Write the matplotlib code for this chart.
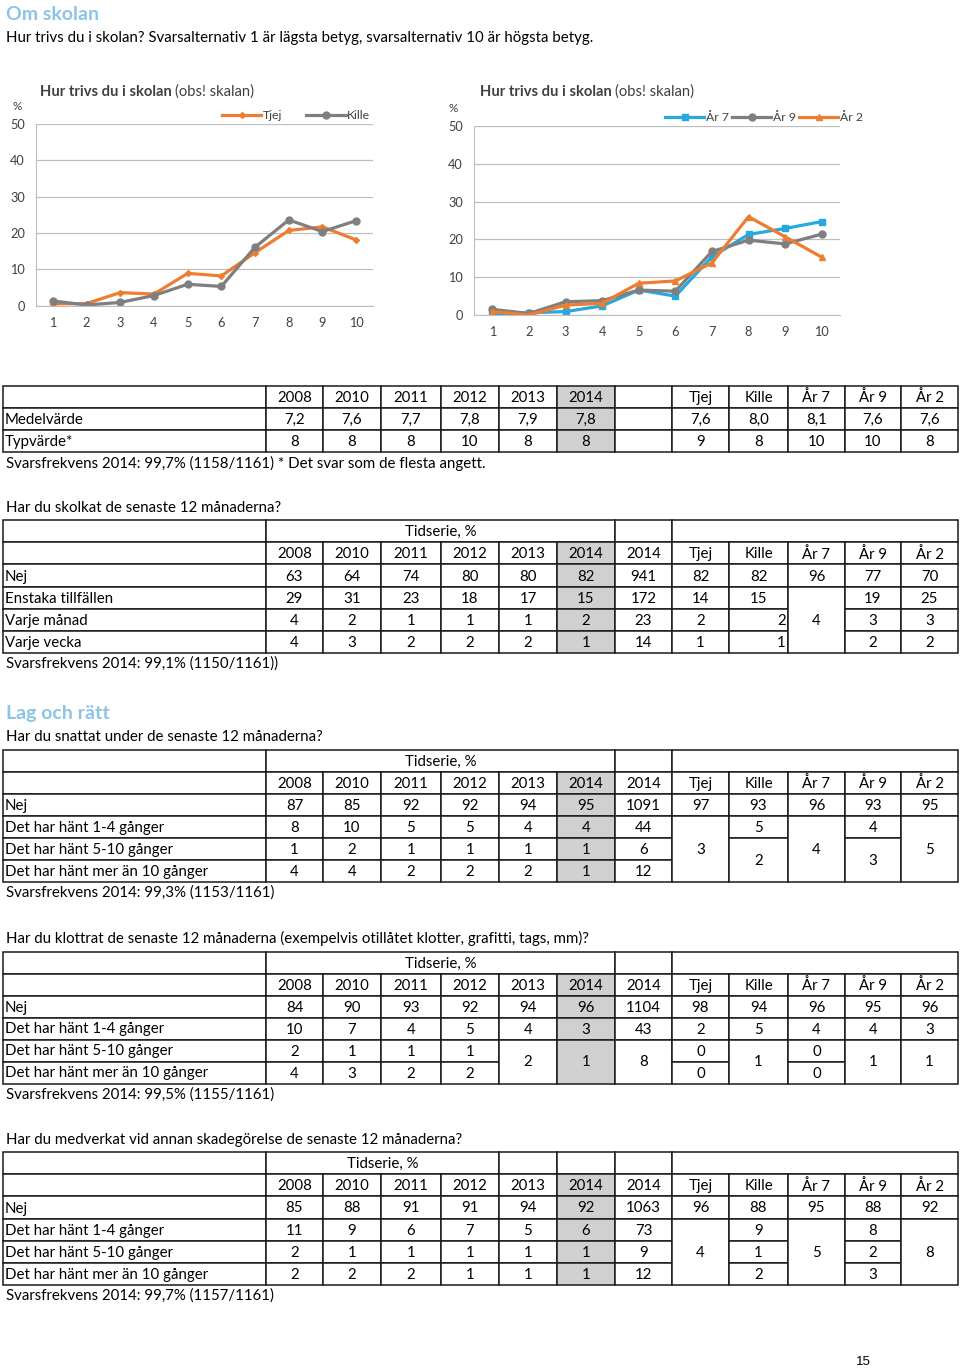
import matplotlib
matplotlib.use('Agg')
import matplotlib.pyplot as plt
from matplotlib.patches import Rectangle

plt.rcParams['font.family'] = ['Lato', 'DejaVu Sans']

# ---- chart data (percent per answer 1..10) ----
betyg = [1, 2, 3, 4, 5, 6, 7, 8, 9, 10]
trivs_tjej = [0.5, 0.6, 3.6, 3.2, 8.9, 8.2, 14.6, 20.7, 21.7, 18.1]
trivs_kille = [1.3, 0.2, 0.9, 2.8, 5.9, 5.3, 16.1, 23.6, 20.4, 23.4]
trivs_ar7 = [0.2, 0.6, 0.9, 2.4, 6.6, 5.0, 15.4, 21.3, 22.9, 24.7]
trivs_ar9 = [1.5, 0.4, 3.5, 3.8, 6.6, 6.3, 16.8, 19.8, 18.8, 21.4]
trivs_ar2 = [0.9, 0.0, 2.6, 3.1, 8.4, 9.0, 13.8, 26.0, 20.7, 15.3]

# ---- table data ----
years = ['2008', '2010', '2011', '2012', '2013', '2014']
groups = ['Tjej', 'Kille', 'År 7', 'År 9', 'År 2']

medel_tid = [7.2, 7.6, 7.7, 7.8, 7.9, 7.8]
medel_grp = [7.6, 8.0, 8.1, 7.6, 7.6]
typ_tid = [8, 8, 8, 10, 8, 8]
typ_grp = [9, 8, 10, 10, 8]

skolk_labels = ['Nej', 'Enstaka tillfällen', 'Varje månad', 'Varje vecka']
skolk_tid = [[63, 64, 74, 80, 80, 82], [29, 31, 23, 18, 17, 15],
             [4, 2, 1, 1, 1, 2], [4, 3, 2, 2, 2, 1]]
skolk_antal = [941, 172, 23, 14]
skolk_grp = [[82, 82, 96, 77, 70], [14, 15, 4, 19, 25],
             [2, 2, None, 3, 3], [1, 1, None, 2, 2]]

hant_labels = ['Nej', 'Det har hänt 1-4 gånger', 'Det har hänt 5-10 gånger',
               'Det har hänt mer än 10 gånger']

snatt_tid = [[87, 85, 92, 92, 94, 95], [8, 10, 5, 5, 4, 4],
             [1, 2, 1, 1, 1, 1], [4, 4, 2, 2, 2, 1]]
snatt_antal = [1091, 44, 6, 12]
snatt_grp = [[97, 93, 96, 93, 95], [3, 5, 4, 4, 5],
             [None, 2, None, 3, None], [None, None, None, None, None]]

klott_tid = [[84, 90, 93, 92, 94, 96], [10, 7, 4, 5, 4, 3],
             [2, 1, 1, 1, 2, 1], [4, 3, 2, 2, None, None]]
klott_antal = [1104, 43, 8, None]
klott_grp = [[98, 94, 96, 95, 96], [2, 5, 4, 4, 3],
             [0, 1, 0, 1, 1], [0, None, 0, None, None]]

skad_tid = [[85, 88, 91, 91, 94, 92], [11, 9, 6, 7, 5, 6],
            [2, 1, 1, 1, 1, 1], [2, 2, 2, 1, 1, 1]]
skad_antal = [1063, 73, 9, 12]
skad_grp = [[96, 88, 95, 88, 92], [4, 9, 5, 8, 8],
            [None, 1, None, 2, None], [None, 2, None, 3, None]]

# ---- page ----
fig = plt.figure(figsize=(9.6, 13.7), dpi=100)
page = fig.add_axes([0, 0, 1, 1])
page.set_xlim(0, 960)
page.set_ylim(1370, 0)
page.axis('off')

BLUE = '#8CC4E6'
GRAY = '#D0D0D0'
FS = 10.8
edges = [3, 266, 323, 381, 441, 499, 557, 615, 672, 729, 788, 845, 901, 958]


def cell(x0, x1, y0, y1, text='', fill='white', ha='center'):
    page.add_patch(Rectangle((x0, y0), x1 - x0, y1 - y0, facecolor=fill,
                             edgecolor='#1a1a1a', lw=1.1, zorder=2))
    if text != '':
        x = (x0 + x1) / 2 if ha == 'center' else (x0 + 2 if ha == 'left' else x1 - 2)
        page.text(x, (y0 + y1) / 2 + 1, text, ha=ha, va='center', fontsize=FS,
                  color='black', zorder=3)


def fmt(v):
    return '' if v is None else str(v)


def data_rows(labels, cols, y0, h, right=()):
    # cols: list of per-column value lists; None below a value = merged cell
    n = len(labels)
    for r in range(n):
        cell(edges[0], edges[1], y0 + r * h, y0 + (r + 1) * h, labels[r], ha='left')
    for c, vals in enumerate(cols):
        ci = c + 1
        fill = GRAY if ci == 6 else 'white'
        r = 0
        while r < n:
            span = 1
            while r + span < n and vals[r + span] is None:
                span += 1
            cell(edges[ci], edges[ci + 1], y0 + r * h, y0 + (r + span) * h,
                 fmt(vals[r]), fill=fill,
                 ha='right' if (r, ci) in right else 'center')
            r += span


def survey_table(top, labels, tid, antal, grp, h=22.2, tid_end=7, right=()):
    # Tidserie row
    cell(edges[0], edges[1], top, top + h)
    cell(edges[1], edges[tid_end], top, top + h, 'Tidserie, %')
    for i in range(tid_end, 8):
        cell(edges[i], edges[i + 1], top, top + h)
    cell(edges[8], edges[13], top, top + h)
    # header row
    y = top + h
    cell(edges[0], edges[1], y, y + h)
    for i, t in enumerate(years + ['2014'] + groups):
        cell(edges[i + 1], edges[i + 2], y, y + h, t,
             fill=GRAY if i == 5 else 'white')
    cols = [[row[i] for row in tid] for i in range(6)]
    cols.append(antal)
    cols += [[row[i] for row in grp] for i in range(5)]
    data_rows(labels, cols, top + 2 * h, h, right=right)


def txt(x, y, s, **kw):
    kw.setdefault('fontsize', FS)
    page.text(x, y, s, ha=kw.pop('ha', 'left'), va='center', **kw)


txt(6, 14, 'Om skolan', fontsize=14, fontweight='bold', color=BLUE)
txt(6, 38, 'Hur trivs du i skolan? Svarsalternativ 1 är lägsta betyg, '
           'svarsalternativ 10 är högsta betyg.')

# ---- table 1 ----
h1 = 22
t1 = 386
cell(edges[0], edges[1], t1, t1 + h1)
for i, t in enumerate(years + [''] + groups):
    cell(edges[i + 1], edges[i + 2], t1, t1 + h1, t, fill=GRAY if i == 5 else 'white')
m_cols = [[f'{medel_tid[i]:.1f}'.replace('.', ','), str(typ_tid[i])] for i in range(6)]
m_cols.append(['', ''])
m_cols += [[f'{medel_grp[i]:.1f}'.replace('.', ','), str(typ_grp[i])] for i in range(5)]
data_rows(['Medelvärde', 'Typvärde*'], m_cols, t1 + h1, h1)
txt(6, 463, 'Svarsfrekvens 2014: 99,7% (1158/1161) * Det svar som de flesta angett.')

# ---- table 2 ----
txt(6, 508, 'Har du skolkat de senaste 12 månaderna?')
survey_table(520, skolk_labels, skolk_tid, skolk_antal, skolk_grp, h=22.2,
             right={(2, 9), (3, 9)})
txt(6, 664, 'Svarsfrekvens 2014: 99,1% (1150/1161))')

# ---- table 3 ----
txt(6, 713, 'Lag och rätt', fontsize=14, fontweight='bold', color=BLUE)
txt(6, 737, 'Har du snattat under de senaste 12 månaderna?')
survey_table(749.5, hant_labels, snatt_tid, snatt_antal, snatt_grp, h=22.1)
txt(6, 893, 'Svarsfrekvens 2014: 99,3% (1153/1161)')

# ---- table 4 ----
txt(6, 938, 'Har du klottrat de senaste 12 månaderna (exempelvis otillåtet '
            'klotter, grafitti, tags, mm)?')
survey_table(951.5, hant_labels, klott_tid, klott_antal, klott_grp, h=22.0)
txt(6, 1095, 'Svarsfrekvens 2014: 99,5% (1155/1161)')

# ---- table 5 ----
txt(6, 1140, 'Har du medverkat vid annan skadegörelse de senaste 12 månaderna?')
survey_table(1152, hant_labels, skad_tid, skad_antal, skad_grp, h=22.2, tid_end=5)
txt(6, 1296, 'Svarsfrekvens 2014: 99,7% (1157/1161)')

page.text(863, 1362, '15', ha='center', va='center', fontsize=9.5,
          family=['Liberation Sans', 'DejaVu Sans'])

# ---- charts ----
ORANGE = '#ED7D31'
LGRAY = '#7F7F7F'
CYAN = '#26A9E0'
TXT = '#404040'


def px_axes(x0, x1, y0, y1):
    return fig.add_axes([x0 / 960, 1 - y1 / 1370, (x1 - x0) / 960, (y1 - y0) / 1370])


def style_chart(ax):
    ax.set_xlim(0.5, 10.5)
    ax.set_ylim(0, 50)
    ax.set_yticks(range(0, 51, 10))
    ax.set_xticks(betyg)
    ax.grid(axis='y', color='#BFBFBF', lw=0.9)
    ax.set_axisbelow(True)
    for s in ['top', 'right']:
        ax.spines[s].set_visible(False)
    for s in ['left', 'bottom']:
        ax.spines[s].set_color('#BFBFBF')
    ax.tick_params(length=0, labelsize=9.2, colors=TXT, pad=8)
    ax.tick_params(axis='x', pad=8)


def chart_title(x, y):
    t = page.text(x, y, 'Hur trivs du i skolan', fontsize=10.6, fontweight='bold',
                  color=TXT, va='center')
    r = fig.canvas.get_renderer()
    w = t.get_window_extent(r).width
    page.text(x + w + 3, y, '(obs! skalan)', fontsize=10.6, color=TXT, va='center')


ax1 = px_axes(36, 373, 124, 305.7)
style_chart(ax1)
ax1.plot(betyg, trivs_tjej, color=ORANGE, lw=2.3, marker='D', ms=3, label='Tjej')
ax1.plot(betyg, trivs_kille, color=LGRAY, lw=2.3, marker='o', ms=5, label='Kille')
ax1.legend(loc='lower right', bbox_to_anchor=(1.0, 1.0), ncol=2, frameon=False,
           fontsize=8.8, handlelength=3.2, handletextpad=0.1, columnspacing=2.0,
           borderpad=0, borderaxespad=0.25, labelcolor=TXT)
chart_title(40, 92)
txt(17, 106, '%', fontsize=8.5, color=TXT, ha='center')

ax2 = px_axes(474, 840, 126, 315)
style_chart(ax2)
ax2.plot(betyg, trivs_ar7, color=CYAN, lw=2.3, marker='s', ms=5, label='År 7')
ax2.plot(betyg, trivs_ar9, color=LGRAY, lw=2.3, marker='o', ms=5, label='År 9')
ax2.plot(betyg, trivs_ar2, color=ORANGE, lw=2.3, marker='^', ms=5, label='År 2')
ax2.legend(loc='lower right', bbox_to_anchor=(1.07, 1.0), ncol=3, frameon=False,
           fontsize=8.8, handlelength=3.2, handletextpad=0.1, columnspacing=0.3,
           borderpad=0, borderaxespad=0.25, labelcolor=TXT)
chart_title(480, 92)
txt(453, 108, '%', fontsize=8.5, color=TXT, ha='center')

fig.savefig('out.png', dpi=100)
